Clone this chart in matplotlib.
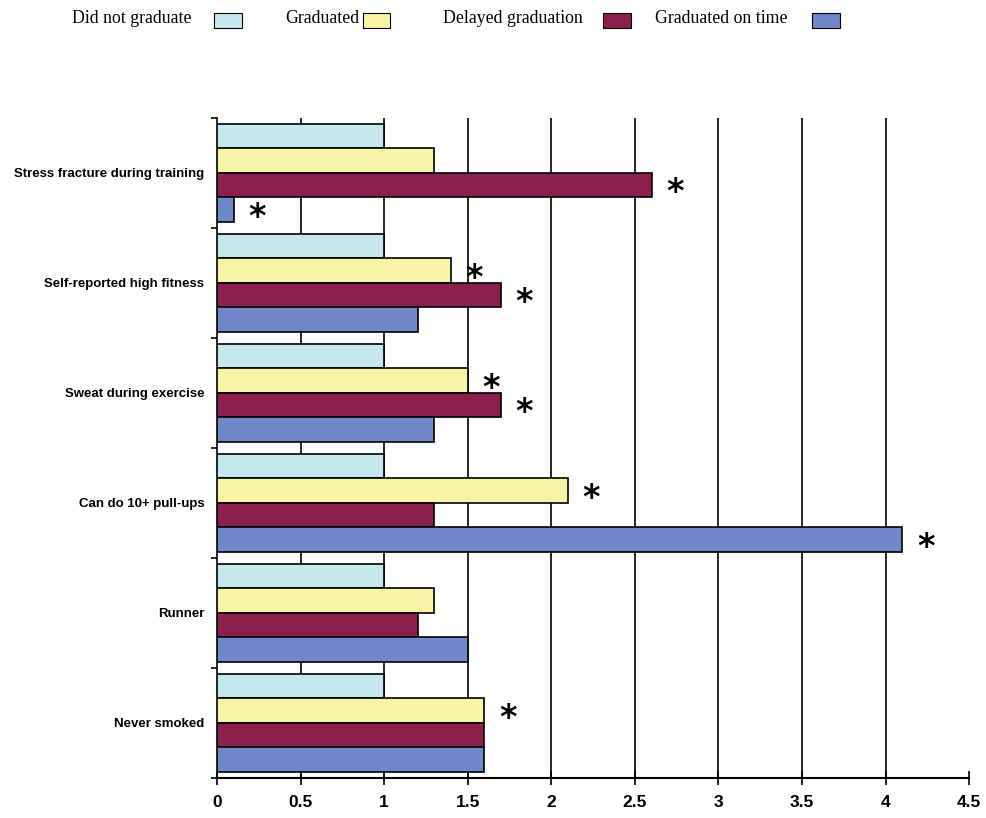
import numpy as np
import matplotlib
matplotlib.use("Agg")
import matplotlib.pyplot as plt
from matplotlib.patches import Rectangle

categories = ["Stress fracture during training", "Self-reported high fitness",
              "Sweat during exercise", "Can do 10+ pull-ups", "Runner", "Never smoked"]
series_names = ["Did not graduate", "Graduated", "Delayed graduation", "Graduated on time"]
did_not_graduate = [1.0, 1.0, 1.0, 1.0, 1.0, 1.0]
graduated = [1.3, 1.4, 1.5, 2.1, 1.3, 1.6]
delayed_graduation = [2.6, 1.7, 1.7, 1.3, 1.2, 1.6]
graduated_on_time = [0.1, 1.2, 1.3, 4.1, 1.5, 1.6]
# (category index, series index) of bars marked significant
stars = [(0, 2), (0, 3), (1, 1), (1, 2), (2, 1), (2, 2), (3, 1), (3, 3), (5, 1)]
xticks = [0, 0.5, 1, 1.5, 2, 2.5, 3, 3.5, 4, 4.5]
xtick_labels = ["0", "0.5", "1", "1.5", "2", "2.5", "3", "3.5", "4", "4.5"]

colors = ["#c4e8ee", "#f8f4a6", "#8c1f4e", "#7088c8"]
label_font = ["Liberation Sans", "DejaVu Sans"]


def main():
    values = [did_not_graduate, graduated, delayed_graduation, graduated_on_time]
    fig = plt.figure(figsize=(9.86, 8.18), dpi=100)
    ax = fig.add_axes([0.220, 0.049, 0.763, 0.807])

    h = 0.222
    y = np.arange(len(categories))
    for j, vals in enumerate(values):
        ax.barh(y + (j - 1.5) * h, vals, height=h, color=colors[j],
                edgecolor="black", linewidth=1.2, zorder=3)

    for ci, sj in stars:
        v = values[sj][ci]
        ax.text(v + 0.14, ci + (sj - 1.5) * h + 0.07, "*", fontsize=24,
                fontweight="bold", ha="center", va="center",
                family="DejaVu Sans", zorder=4)

    # vertical grid lines
    for gx in xticks[1:-1]:
        ax.axvline(gx, color="black", linewidth=1.2, zorder=1)

    ax.set_xlim(0, 4.5)
    ax.set_ylim(len(categories) - 0.5, -0.5)
    ax.set_xticks(xticks)
    ax.set_xticklabels(xtick_labels, fontsize=12.5, fontweight="bold", family=label_font)
    ax.tick_params(axis="x", direction="inout", length=10, width=1.2, pad=7)

    ax.set_yticks(y)
    ax.set_yticklabels(categories, fontsize=9.5, fontweight="bold", family=label_font)
    ax.set_yticks(np.arange(len(categories) + 1) - 0.5, minor=True)
    ax.tick_params(axis="y", which="major", length=0, pad=9)
    ax.tick_params(axis="y", which="minor", length=4, width=1.2, direction="out")

    ax.spines["top"].set_visible(False)
    ax.spines["right"].set_visible(False)
    ax.spines["left"].set_linewidth(1.2)
    ax.spines["bottom"].set_linewidth(1.5)

    # legend: text first, then box
    text_x = [0.073, 0.289, 0.449, 0.664]
    box_x = [0.217, 0.368, 0.612, 0.824]
    for name, tx, bx, c in zip(series_names, text_x, box_x, colors):
        fig.text(tx, 0.977, name, fontsize=12.8, family="Liberation Serif",
                 va="center", ha="left")
        fig.patches.append(Rectangle((bx, 0.966), 0.028, 0.018, transform=fig.transFigure,
                                     facecolor=c, edgecolor="black", linewidth=0.8))

    fig.savefig("out.png", dpi=100)


if __name__ == "__main__":
    main()
